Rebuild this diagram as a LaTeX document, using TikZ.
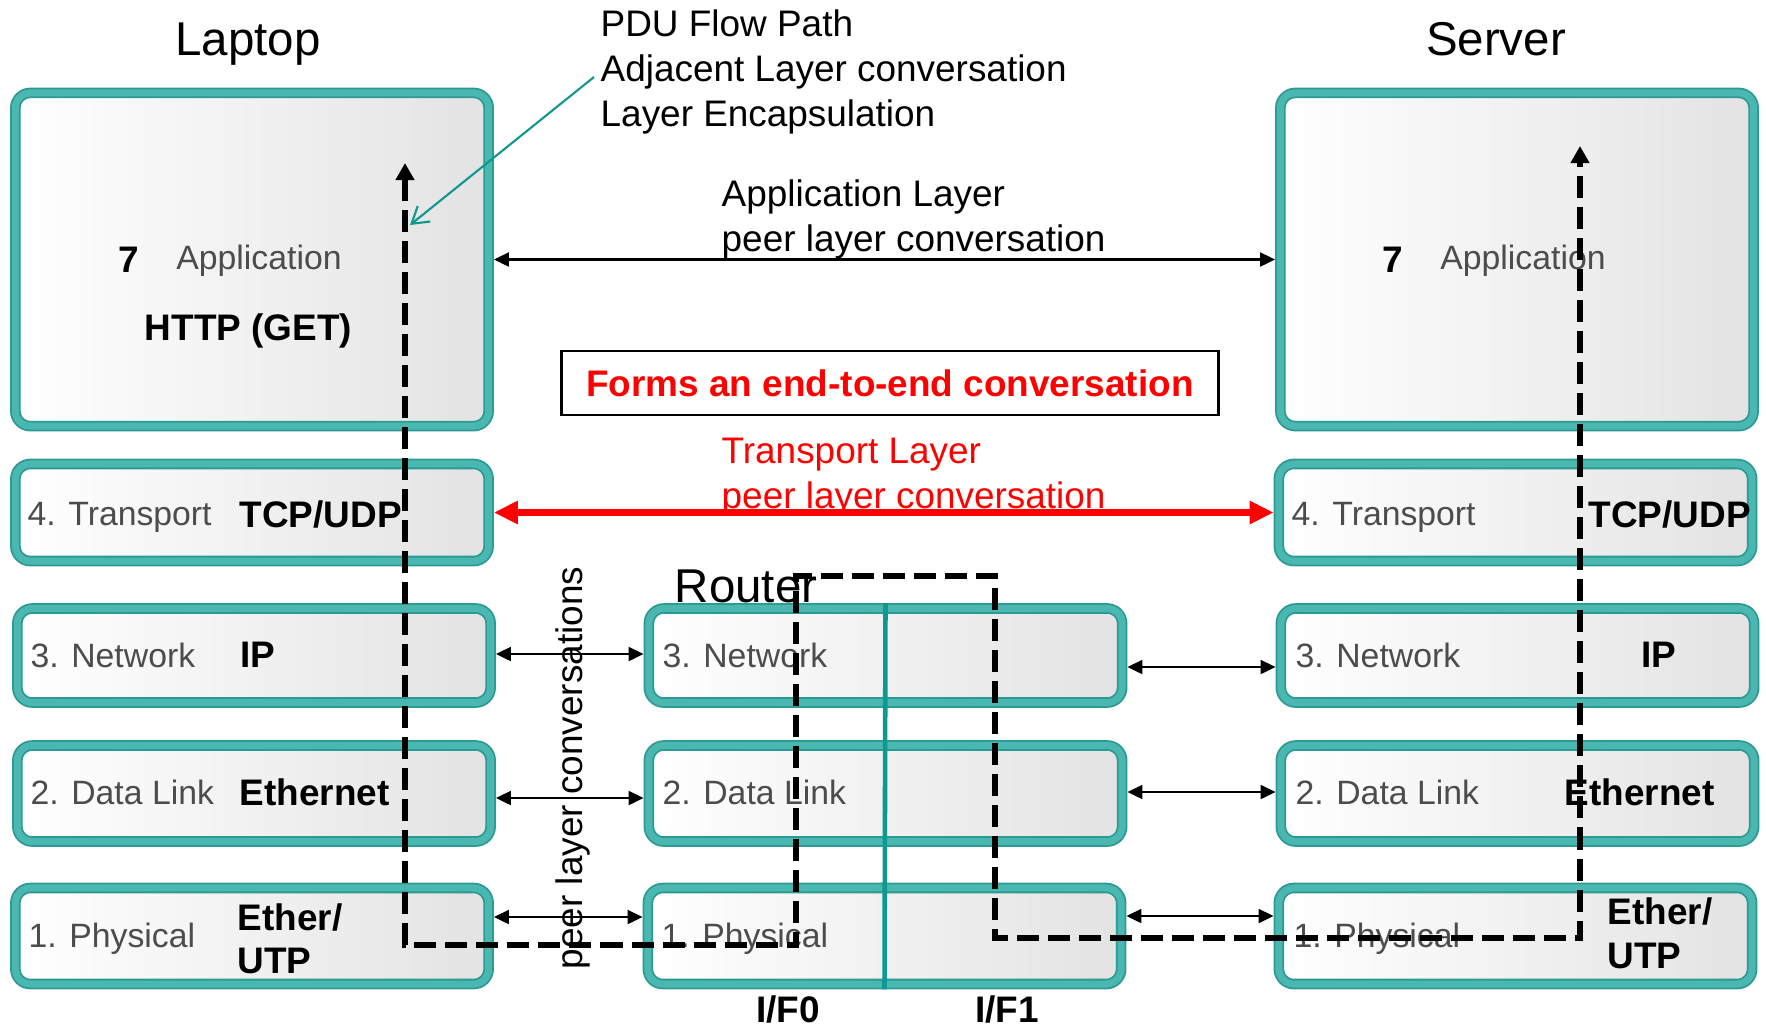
\documentclass[tikz,border=0pt]{standalone}
\usepackage{fontspec}
\setmainfont{Liberation Sans}
\usetikzlibrary{arrows.meta}
\definecolor{rmx}{HTML}{4AB8B1}
\definecolor{rdx}{HTML}{2A9A93}
\definecolor{tlx}{HTML}{0E9990}
\colorlet{gyx}{black!70}

\begin{document}
\begin{tikzpicture}[x=0.01cm, y=-0.01cm,
    layer/.style={rounded corners=0.15cm, draw=rdx, double=rmx, double distance=0.07cm,
        line width=0.018cm, left color=white, right color=black!11,
        outer sep=0.053cm, inner sep=0, minimum width=4.73cm},
    txt/.style={inner sep=0, font=\fontsize{10.5}{12.8}\selectfont},
    bld/.style={inner sep=0, font=\fontsize{10.5}{12.8}\selectfont\bfseries},
    lyr/.style={inner sep=0, anchor=west, text=gyx, font=\fontsize{9.6}{11}\selectfont},
    ttl/.style={inner sep=0, font=\fontsize{13.5}{16}\selectfont},
    peer/.style={{Triangle[length=0.15cm,width=0.14cm]}-{Triangle[length=0.15cm,width=0.14cm]}, line width=0.6pt},
    tpeer/.style={{Triangle[length=0.24cm,width=0.22cm]}-{Triangle[length=0.24cm,width=0.22cm]}, red, line width=2pt},
    flow/.style={{Triangle[length=0.17cm,width=0.18cm]}-{Triangle[length=0.17cm,width=0.18cm]}, line width=1.7pt, dash pattern=on 0.22cm off 0.09cm},
    note/.style={-{Straight Barb[length=0.16cm,width=0.2cm]}, tlx, line width=0.6pt}
]
\useasboundingbox (0,0) rectangle (1766,1026);

% laptop stack
\node[layer, minimum height=3.33cm] (lapp) at (252,259.5) {};
\node[layer, minimum height=0.97cm] (ltra) at (252,512.5) {};
\node[layer, minimum height=0.94cm] (lnet) at (254,655.5) {};
\node[layer, minimum height=0.96cm] (llnk) at (254,793.5) {};
\node[layer, minimum height=0.96cm] (lphy) at (252,936) {};

% router stack
\node[layer, minimum height=0.94cm] (rnet) at (885.5,655.5) {};
\node[layer, minimum height=0.96cm] (rlnk) at (885.5,793.5) {};
\node[layer, minimum height=0.96cm] (rphy) at (884.5,936) {};
\draw[tlx, line width=1.3pt] (rnet.north) -- (rphy.south);

% server stack
\node[layer, minimum height=3.33cm] (sapp) at (1517,259.5) {};
\node[layer, minimum height=0.97cm] (stra) at (1515.5,512.5) {};
\node[layer, minimum height=0.94cm] (snet) at (1517.5,655.5) {};
\node[layer, minimum height=0.96cm] (slnk) at (1517.5,793.5) {};
\node[layer, minimum height=0.96cm] (sphy) at (1515.5,936) {};

% peer conversations
\draw[peer] (lapp.east) -- (sapp.west);
\draw[tpeer] (ltra.east) -- (stra.west);
\draw[peer] (lnet.east |- 0,654) -- (rnet.west |- 0,654);
\draw[peer] (rnet.east |- 0,667) -- (snet.west |- 0,667);
\draw[peer] (llnk.east |- 0,798) -- (rlnk.west |- 0,798);
\draw[peer] (rlnk.east |- 0,792) -- (slnk.west |- 0,792);
\draw[peer] (lphy.east |- 0,917) -- (rphy.west |- 0,917);
\draw[peer] (rphy.east |- 0,916) -- (sphy.west |- 0,916);

% text in the boxes
\node[bld] (l7) at (129,260) {7};
\node[lyr, anchor=center] (lapn) at (259,261) {Application};
\node[bld] (http) at (248.5,331) {HTTP (GET)};
\node[bld] (s7) at (1393,260) {7};
\node[lyr, anchor=center] (sapn) at (1523,261) {Application};

\node[lyr] (ltran) at (27,517) {4. Transport};
\node[bld, anchor=west] (ltcp) at (239,514) {TCP/UDP};
\node[lyr] (lnetn) at (30,655) {3. Network};
\node[bld, anchor=west] (lip) at (240,655) {IP};
\node[lyr] (llnkn) at (30,792) {2. Data Link};
\node[bld, anchor=west] (leth) at (239,792) {Ethernet};
\node[lyr] (lphyn) at (28,939) {1. Physical};
\node[bld, anchor=west] (lmed) at (237,917) {Ether/};
\node[bld, anchor=west] (lutp) at (237,961) {UTP};

\node[lyr] (rnetn) at (662,655) {3. Network};
\node[lyr] (rlnkn) at (662,792) {2. Data Link};
\node[lyr] (rphyn) at (661,939) {1. Physical};

\node[lyr] (stran) at (1291,517) {4. Transport};
\node[bld, anchor=west] (stcp) at (1588,514) {TCP/UDP};
\node[lyr] (snetn) at (1295,655) {3. Network};
\node[bld] (sip) at (1659,655) {IP};
\node[lyr] (slnkn) at (1295,792) {2. Data Link};
\node[bld, anchor=west] (seth) at (1564,792) {Ethernet};
\node[lyr] (sphyn) at (1293,939) {1. Physical};
\node[bld, anchor=west] (smed) at (1607,911) {Ether/};
\node[bld, anchor=west] (sutp) at (1607,956) {UTP};

% PDU flow path
\coordinate (pstart) at (405,163);
\coordinate (pend) at (1580,146);
\draw[flow] (pstart) -- (405,945) -- (796,945) -- (796,576) -- (995,576)
    -- (995,938) -- (1580,938) -- (pend);

% titles and notes
\node[ttl, anchor=base] (laptop) at (248,55) {Laptop};
\node[ttl, anchor=base] (server) at (1496,55) {Server};
\node[ttl] (router) at (746,586) {Router};
\node[bld] (if0) at (788,1009) {I/F0};
\node[bld] (if1) at (1007,1009) {I/F1};

\node[txt, anchor=west, align=left] (notes) at (600,72)
    {PDU Flow Path\\Adjacent Layer conversation\\Layer Encapsulation};
\coordinate (hit) at (410,225);
\draw[note] (notes.west) ++(-6,5) -- (hit);

\node[txt, anchor=west, align=left] (apeer) at (721,219.5)
    {Application Layer\\peer layer conversation};
\node[txt, anchor=west, align=left, text=red] (tpeer) at (721,477)
    {Transport Layer\\peer layer conversation};
\node[draw, line width=0.8pt, minimum width=6.56cm, minimum height=0.64cm,
    text=red, font=\fontsize{10.5}{12.8}\selectfont\bfseries] (e2e) at (890,383)
    {Forms an end-to-end conversation};
\node[txt, rotate=90] (peers) at (573,768) {peer layer conversations};
\end{tikzpicture}
\end{document}
